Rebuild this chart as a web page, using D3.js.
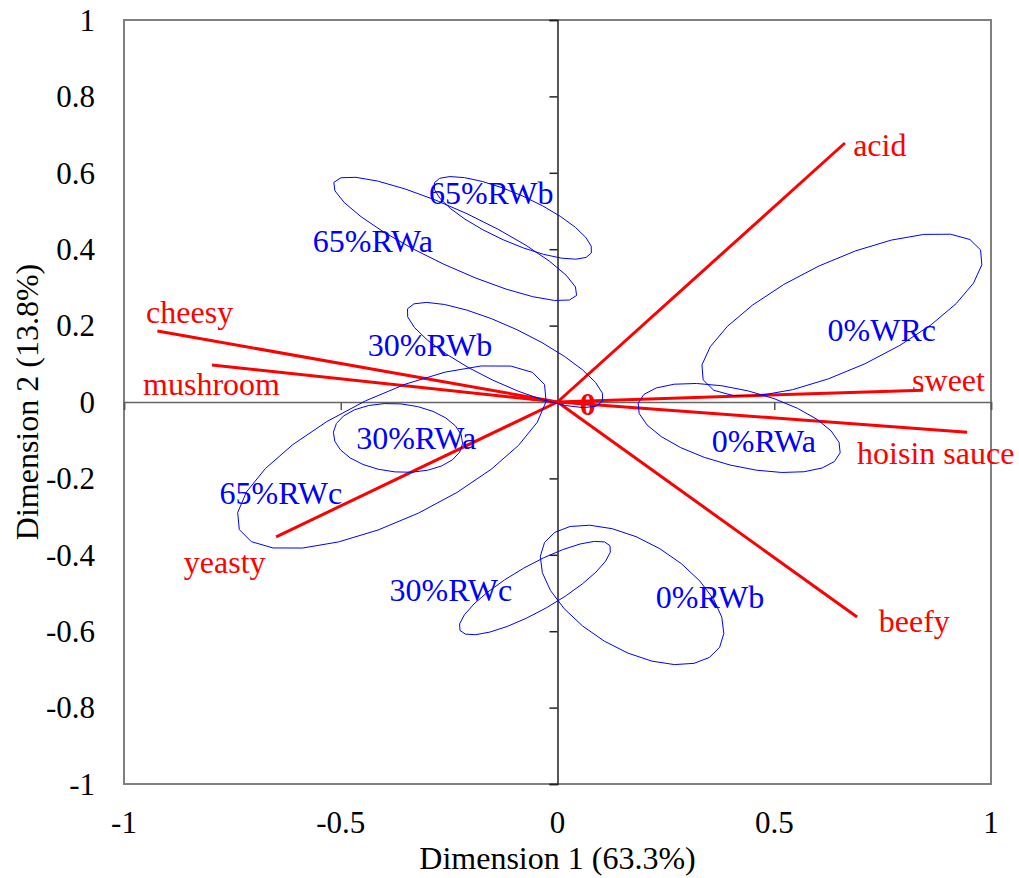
<!DOCTYPE html>
<html>
<head>
<meta charset="utf-8">
<script src="https://cdn.jsdelivr.net/npm/d3@7"></script>
<style>
  body { margin: 0; background: #fff; }
  text { font-family: "Liberation Serif", "Times New Roman", serif; }
</style>
</head>
<body>
<div id="plot"></div>
<script>
// sample groups: centre and two semi-axis vectors of each confidence ellipse (data units)
var groupNames = ["65%RWb", "65%RWa", "30%RWb", "30%RWa", "65%RWc", "0%WRc", "0%RWa", "30%RWc", "0%RWb"];
var ellCx = [-0.103, -0.236, -0.121, -0.368, -0.382, 0.656, 0.419, -0.052, 0.172];
var ellCy = [0.482, 0.427, 0.123, -0.094, -0.144, 0.228, -0.068, -0.487, -0.505];
var ellUx = [0.181, 0.280, 0.225, 0.149, 0.352, 0.320, 0.233, 0.173, 0.202];
var ellUy = [-0.092, -0.148, -0.121, -0.015, 0.190, 0.170, -0.065, 0.111, -0.137];
var ellVx = [-0.023, -0.027, -0.028, -0.007, 0.061, 0.053, -0.021, 0.026, -0.064];
var ellVy = [-0.057, -0.066, -0.066, -0.089, -0.147, -0.128, -0.097, -0.052, -0.121];
// where each group label sits
var groupLabelX = [-0.153, -0.426, -0.294, -0.326, -0.638, 0.748, 0.476, -0.246, 0.352];
var groupLabelY = [0.547, 0.421, 0.149, -0.094, -0.238, 0.188, -0.102, -0.492, -0.510];

// attribute vectors
var attrNames = ["acid", "sweet", "hoisin sauce", "beefy", "yeasty", "mushroom", "cheesy"];
var attrX = [0.663, 0.843, 0.945, 0.691, -0.649, -0.797, -0.923];
var attrY = [0.678, 0.031, -0.079, -0.563, -0.353, 0.097, 0.186];
var attrLabelX = [0.682, 0.818, 0.691, 0.741, -0.862, -0.956, -0.949];
var attrLabelY = [0.673, 0.058, -0.134, -0.573, -0.419, 0.047, 0.236];

var xTicks = [-1, -0.5, 0, 0.5, 1];
var yTicks = [-1, -0.8, -0.6, -0.4, -0.2, 0, 0.2, 0.4, 0.6, 0.8, 1];

var margin = {top: 20, right: 28, bottom: 94, left: 124},
    width = 1019 - margin.left - margin.right,
    height = 878 - margin.top - margin.bottom;

var svg = d3.select("#plot")
  .append("svg")
    .attr("width", 1019)
    .attr("height", 878)
  .append("g")
    .attr("transform", "translate(" + margin.left + "," + margin.top + ")");

var x = d3.scaleLinear().domain([-1, 1]).range([0, width]);
var y = d3.scaleLinear().domain([-1, 1]).range([height, 0]);

// plain hyphen for negatives, like the original
var fmt = function(d) { return String(d); };

// frame
svg.append("rect")
    .attr("x", 0).attr("y", 0)
    .attr("width", width).attr("height", height)
    .attr("fill", "none")
    .attr("stroke", "#808080")
    .attr("stroke-width", 2);

// axes through the origin
var xAxis = svg.append("g")
    .attr("transform", "translate(0," + y(0) + ")")
    .call(d3.axisBottom(x).tickValues([-1, -0.5, 0.5, 1]).tickSize(8).tickFormat(""));
xAxis.select(".domain").attr("stroke", "#666").attr("stroke-width", 1.5);
xAxis.selectAll(".tick line").attr("stroke", "#555").attr("stroke-width", 1.5);

var yAxis = svg.append("g")
    .attr("transform", "translate(" + x(0) + ",0)")
    .call(d3.axisLeft(y).tickValues(yTicks).tickSize(8).tickFormat(""));
yAxis.select(".domain").attr("stroke", "#222").attr("stroke-width", 1.5);
yAxis.selectAll(".tick line").attr("stroke", "#222").attr("stroke-width", 1.5);

// tick labels on the outside
svg.selectAll(".ylab")
  .data(yTicks)
  .enter().append("text")
    .attr("x", -29)
    .attr("y", function(d) { return y(d); })
    .attr("dy", "0.35em")
    .attr("text-anchor", "end")
    .attr("font-size", "31px")
    .text(fmt);

svg.selectAll(".xlab")
  .data(xTicks)
  .enter().append("text")
    .attr("x", function(d) { return x(d); })
    .attr("y", height + 38)
    .attr("dy", "0.35em")
    .attr("text-anchor", "middle")
    .attr("font-size", "31px")
    .text(fmt);

svg.append("text")
    .attr("x", x(0))
    .attr("y", height + 74)
    .attr("dy", "0.35em")
    .attr("text-anchor", "middle")
    .attr("font-size", "32px")
    .text("Dimension 1 (63.3%)");

svg.append("text")
    .attr("transform", "translate(" + (-97) + "," + y(0) + ") rotate(-90)")
    .attr("dy", "0.35em")
    .attr("text-anchor", "middle")
    .attr("font-size", "32px")
    .text("Dimension 2 (13.8%)");

// attribute vectors
var attrs = attrNames.map(function(n, i) {
    return {name: n, x: attrX[i], y: attrY[i], lx: attrLabelX[i], ly: attrLabelY[i]};
});

svg.selectAll(".vec")
  .data(attrs)
  .enter().append("line")
    .attr("x1", x(0)).attr("y1", y(0))
    .attr("x2", function(d) { return x(d.x); })
    .attr("y2", function(d) { return y(d.y); })
    .attr("stroke", "#ff0000")
    .attr("stroke-width", 3);

svg.selectAll(".vlab")
  .data(attrs)
  .enter().append("text")
    .attr("x", function(d) { return x(d.lx); })
    .attr("y", function(d) { return y(d.ly); })
    .attr("dy", "0.35em")
    .attr("font-size", "32px")
    .attr("fill", "#ff0000")
    .text(function(d) { return d.name; });

svg.append("text")
    .attr("x", x(0.07))
    .attr("y", y(-0.005))
    .attr("dy", "0.35em")
    .attr("text-anchor", "middle")
    .attr("font-size", "32px")
    .attr("font-weight", "bold")
    .attr("fill", "#ff0000")
    .text("0");

// confidence ellipses
var groups = groupNames.map(function(n, i) {
    return {name: n, cx: ellCx[i], cy: ellCy[i], ux: ellUx[i], uy: ellUy[i],
            vx: ellVx[i], vy: ellVy[i], lx: groupLabelX[i], ly: groupLabelY[i]};
});

var line = d3.line()
    .x(function(p) { return x(p[0]); })
    .y(function(p) { return y(p[1]); })
    .curve(d3.curveLinearClosed);

svg.selectAll(".ell")
  .data(groups)
  .enter().append("path")
    .attr("d", function(d) {
        var pts = d3.range(24).map(function(k) {
            var t = k / 24 * 2 * Math.PI;
            return [d.cx + d.ux * Math.cos(t) + d.vx * Math.sin(t),
                    d.cy + d.uy * Math.cos(t) + d.vy * Math.sin(t)];
        });
        return line(pts);
    })
    .attr("fill", "none")
    .attr("stroke", "#0000ff")
    .attr("stroke-width", 1);

svg.selectAll(".glab")
  .data(groups)
  .enter().append("text")
    .attr("x", function(d) { return x(d.lx); })
    .attr("y", function(d) { return y(d.ly); })
    .attr("dy", "0.35em")
    .attr("text-anchor", "middle")
    .attr("font-size", "32px")
    .attr("fill", "#0000ff")
    .text(function(d) { return d.name; });
</script>
</body>
</html>
